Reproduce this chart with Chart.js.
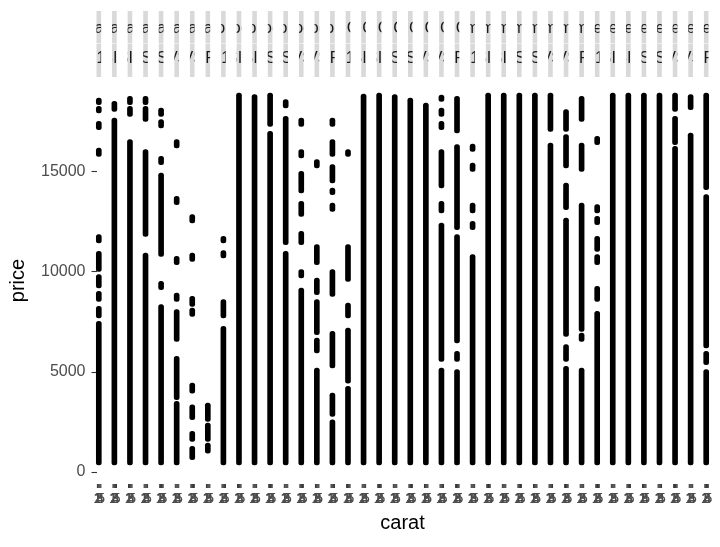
<!DOCTYPE html>
<html><head><meta charset="utf-8">
<script src="https://cdn.jsdelivr.net/npm/chart.js@4"></script>
<style>html,body{margin:0;padding:0;background:#fff}#wrap{width:720px;height:547px}</style>
</head><body><div id="wrap"><canvas id="c" width="720" height="547"></canvas></div>
<script>
// ---- data ----
const cuts = ['Fair', 'Good', 'Very Good', 'Premium', 'Ideal'];
const clarities = ['I1', 'SI2', 'SI1', 'VS2', 'VS1', 'VVS2', 'VVS1', 'IF'];
const caratBreaks = [1, 2, 3, 4, 5];
const caratRange = [0.2, 5.01];
const priceTicks = [0, 5000, 10000, 15000];
const priceRange = [326, 18823];

// price ranges covered by the plotted points in each panel, one list per clarity
const fairSegments = [
  [[18365,18700],[17950,18280],[17115,17530],[15780,16200],[11450,11865],[10030,11030],[9200,9865],[8530,9030],[7700,8280],[350,7530]],
  [[18030,18530],[350,17700]],
  [[18365,18780],[17780,18280],[350,16615]],
  [[18365,18780],[17530,18280],[11780,16115],[350,10950]],
  [[17782,18198],[17198,17615],[15365,15782],[10782,14948],[9115,9532],[350,8365]],
  [[16198,16615],[13365,13782],[10365,10782],[8532,8948],[6532,8115],[3615,5782],[350,3532]],
  [[12448,12865],[10532,10948],[8282,8782],[7782,8198],[3948,4448],[2615,3365],[1532,2032],[615,1282]],
  [[2532,3448],[1532,2448],[948,1448]]
];
const goodSegments = [
  [[11448,11782],[10698,11065],[7698,8615],[350,7282]],
  [[350,18950]],
  [[350,18865]],
  [[17280,18950],[350,17030]],
  [[18198,18615],[11365,17782],[350,11032]],
  [[17282,17698],[15698,16115],[13948,15032],[12782,13532],[11365,12032],[9698,10115],[350,9198]],
  [[15198,15615],[10365,11365],[8865,9698],[6865,8615],[5948,6698],[350,5198]],
  [[17282,17698],[15782,16615],[14448,15365],[13865,14198],[13032,13448],[8782,10115],[5198,7032],[2782,3948],[350,2615]]
];
const veryGoodSegments = [
  [[15782,16115],[9532,11365],[7698,8448],[4448,7198],[350,4282]],
  [[350,18900]],
  [[350,18950]],
  [[350,18865]],
  [[350,18698]],
  [[350,18448]],
  [[18532,18850],[17782,18198],[17115,17532],[14198,16115],[12948,13532],[5532,12448],[350,5198]],
  [[16948,18782],[12115,16365],[6448,11865],[5532,6032],[350,5115]]
];
const premiumSegments = [
  [[16032,16400],[15032,15448],[12948,13448],[12115,12532],[350,10865]],
  [[350,18950]],
  [[350,18950]],
  [[350,18950]],
  [[350,18950]],
  [[17032,18948],[350,16448]],
  [[17032,18115],[15198,16865],[13115,14448],[6782,12698],[5532,6365],[350,5282]],
  [[17532,18782],[15032,16448],[7032,13448],[6532,6948],[350,5198]]
];
const idealSegments = [
  [[16365,16782],[12948,13365],[12365,12782],[11032,11782],[10365,10865],[8532,9282],[350,8032]],
  [[350,18950]],
  [[350,18950]],
  [[350,18950]],
  [[350,18950]],
  [[18032,18948],[16365,17782],[350,16282]],
  [[18115,18865],[350,16948]],
  [[14115,18948],[6198,13865],[5365,6032],[350,5115]]
];

// ---- build ----
const segmentsByCut = [fairSegments, goodSegments, veryGoodSegments, premiumSegments, idealSegments];
const panels = [];
cuts.forEach((cut, ci) => clarities.forEach((cl, ki) => panels.push({cut, clarity: cl, segs: segmentsByCut[ci][ki]})));
const barData = [];
panels.forEach((p, i) => p.segs.forEach(s => barData.push({x: i, y: s})));

const FAMILY = "'Liberation Sans', Arial, Helvetica, sans-serif";
const panelFrac = 0.2954;          // panel width relative to panel pitch
const ySpan = priceRange[1] - priceRange[0];
const yMin = priceRange[0] - 0.05 * ySpan, yMax = priceRange[1] + 0.05 * ySpan;
const cSpan = caratRange[1] - caratRange[0];
const cMin = caratRange[0] - 0.05 * cSpan, cMax = caratRange[1] + 0.05 * cSpan;

const facetPlugin = {
  id: 'facets',
  afterDraw(chart) {
    const ctx = chart.ctx, xs = chart.scales.x, area = chart.chartArea;
    ctx.save();
    panels.forEach((p, i) => {
      const l = xs.getPixelForValue(i - panelFrac / 2);
      const r = xs.getPixelForValue(i + panelFrac / 2);
      const w = r - l, cx = (l + r) / 2;
      // strips
      const rows = [[11, 43.3, p.cut, 29], [43.7, area.top, p.clarity, 59]];
      rows.forEach(([t, b, txt, ty]) => {
        ctx.fillStyle = '#D9D9D9';
        ctx.fillRect(l, t, w, b - t);
        ctx.save();
        ctx.beginPath(); ctx.rect(l, t, w, b - t); ctx.clip();
        ctx.fillStyle = '#1A1A1A';
        ctx.font = '16px ' + FAMILY;
        ctx.textAlign = 'center'; ctx.textBaseline = 'middle';
        ctx.fillText(txt, cx, ty);
        ctx.restore();
      });
      // per-panel carat axis
      caratBreaks.forEach(b => {
        const x = l + (b - cMin) / (cMax - cMin) * w;
        ctx.strokeStyle = '#333333'; ctx.lineWidth = 1;
        ctx.beginPath(); ctx.moveTo(x, area.bottom); ctx.lineTo(x, area.bottom + 4); ctx.stroke();
        ctx.fillStyle = '#4D4D4D';
        ctx.font = '15px ' + FAMILY;
        ctx.textAlign = 'center'; ctx.textBaseline = 'middle';
        ctx.fillText(String(b), x, area.bottom + 15);
      });
    });
    ctx.restore();
  }
};

new Chart(document.getElementById('c'), {
  type: 'bar',
  data: {
    datasets: [{
      data: barData,
      backgroundColor: '#000000',
      barThickness: 5,
      borderRadius: 2.5,
      borderSkipped: false,
      clip: false
    }]
  },
  options: {
    responsive: false,
    animation: false,
    devicePixelRatio: 1,
    layout: {padding: {top: 77, right: 11.5, left: 0, bottom: 0}},
    plugins: {legend: {display: false}, tooltip: {enabled: false}},
    scales: {
      x: {
        type: 'linear',
        offset: false,
        min: -panelFrac / 2,
        max: panels.length - 1 + panelFrac / 2,
        afterFit: s => { s.height = 63; },
        grid: {display: false, offset: false},
        border: {display: false},
        ticks: {display: false},
        title: {display: true, text: 'carat', color: '#000000', font: {family: FAMILY, size: 20}, padding: {top: 0, bottom: 12}}
      },
      y: {
        type: 'linear',
        min: yMin,
        max: yMax,
        afterBuildTicks: s => { s.ticks = priceTicks.map(v => ({value: v})); },
        afterFit: s => { s.width = 96.5; },
        grid: {display: true, drawOnChartArea: false, drawTicks: true, tickLength: 5, tickColor: '#333333', tickWidth: 1.1},
        border: {display: false},
        ticks: {color: '#4D4D4D', font: {family: FAMILY, size: 16}, padding: 6, callback: v => String(v)},
        title: {display: true, text: 'price', color: '#000000', font: {family: FAMILY, size: 20}, padding: {top: 6, bottom: 0}}
      }
    }
  },
  plugins: [facetPlugin]
});
</script>
</body></html>
